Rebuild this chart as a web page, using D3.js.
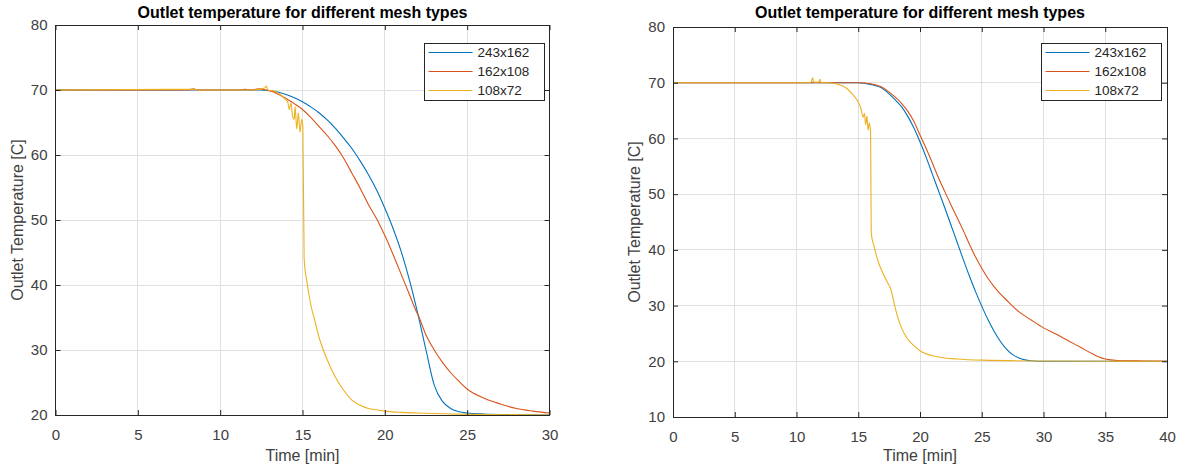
<!DOCTYPE html>
<html>
<head>
<meta charset="utf-8">
<script src="https://cdn.jsdelivr.net/npm/d3@7"></script>
<style>
  html, body { margin: 0; padding: 0; background: #fff; }
  svg { display: block; font-family: "Liberation Sans", Arial, sans-serif; }
</style>
</head>
<body>
<svg id="chart" width="1180" height="467"></svg>
<script>
// ---------------- DATA ----------------
const chartTitle = "Outlet temperature for different mesh types";
const xAxisLabel = "Time [min]";
const yAxisLabel = "Outlet Temperature [C]";
const seriesNames = ["243x162", "162x108", "108x72"];

// Left chart (time in minutes, temperature in C)
const leftXTicks = [0, 5, 10, 15, 20, 25, 30];
const leftYTicks = [20, 30, 40, 50, 60, 70, 80];

const left243Time = [0, 5, 10, 12.5, 13, 13.5, 14, 14.5, 15, 15.5, 16, 16.5, 17, 17.5, 18, 18.5, 19, 19.5, 20, 20.5, 21, 21.5, 22, 22.5, 23, 23.5, 24, 24.5, 25, 26, 28, 30];
const left243Temp = [70, 70, 70, 70, 69.9, 69.7, 69.3, 68.8, 68.2, 67.4, 66.5, 65.4, 64.1, 62.6, 61.0, 59.1, 57.0, 54.6, 51.8, 48.7, 45.1, 40.7, 35.6, 30.0, 24.6, 22.1, 21.0, 20.5, 20.3, 20.15, 20.05, 20.0];

const left162Time = [0, 8, 8.4, 8.6, 9, 11, 11.5, 12, 12.3, 12.6, 13, 13.5, 14, 14.5, 15, 15.5, 16, 16.5, 17, 17.5, 18, 18.5, 19, 19.5, 20, 20.5, 21, 21.5, 21.9, 22, 22.5, 23, 23.5, 24, 24.5, 25, 26, 27, 28, 29, 30];
const left162Temp = [70, 70, 70.2, 70, 70, 70, 70.1, 70, 70.2, 70.1, 69.9, 69.4, 68.7, 67.9, 67.0, 65.8, 64.4, 63.0, 61.4, 59.5, 57.2, 54.9, 52.4, 50.2, 47.6, 44.7, 41.6, 38.5, 36.0, 35.5, 32.3, 30.0, 28.1, 26.5, 25.2, 24.0, 22.6, 21.7, 21.0, 20.6, 20.3];

const left108Time = [0, 8.4, 8.6, 12, 12.7, 12.8, 12.9, 13.3, 13.6, 13.9, 14.1, 14.2, 14.3, 14.4, 14.5, 14.55, 14.65, 14.75, 14.85, 14.95, 15.02, 15.1, 15.3, 15.5, 15.75, 16, 16.5, 17, 17.5, 18, 18.5, 19, 19.5, 20, 21, 22, 25, 30];
const left108Temp = [70, 70.1, 70, 70, 70.3, 70.6, 70.0, 69.8, 69.4, 68.7, 68.2, 67.0, 68.0, 66.0, 65.5, 67.5, 64.0, 66.5, 63.5, 65.5, 64.5, 44.0, 40.0, 37.0, 34.5, 32.0, 28.5, 25.8, 23.8, 22.3, 21.5, 21.0, 20.8, 20.6, 20.4, 20.3, 20.1, 20.0];

// Right chart
const rightXTicks = [0, 5, 10, 15, 20, 25, 30, 35, 40];
const rightYTicks = [10, 20, 30, 40, 50, 60, 70, 80];

const right243Time = [0, 10, 15, 16, 17, 17.5, 18, 18.5, 19, 19.5, 20, 20.5, 21, 21.5, 22, 22.5, 23, 23.5, 24, 24.5, 25, 25.5, 26, 26.5, 27, 27.5, 28, 28.5, 29, 30, 40];
const right243Temp = [70, 70, 70, 69.7, 68.9, 68.0, 66.9, 65.7, 64.0, 61.9, 59.4, 56.6, 53.6, 50.6, 47.6, 44.5, 41.4, 38.3, 35.3, 32.5, 29.9, 27.5, 25.4, 23.6, 22.2, 21.2, 20.6, 20.25, 20.1, 20.0, 20.0];

const right162Time = [0, 10, 15, 16, 17, 17.5, 18, 18.5, 19, 19.5, 20, 20.5, 21, 21.5, 22, 22.5, 23, 23.5, 24, 24.5, 25, 25.5, 26, 26.5, 27, 27.5, 28, 29, 30, 31, 32, 33, 34, 34.5, 35, 36, 38, 40];
const right162Temp = [70, 70, 70, 69.8, 69.1, 68.3, 67.4, 66.3, 64.9, 63.1, 60.6, 58.2, 55.6, 52.9, 50.5, 48.1, 45.8, 43.5, 41.0, 38.7, 36.7, 34.9, 33.4, 32.1, 31.0, 29.9, 28.9, 27.4, 26.0, 24.9, 23.7, 22.5, 21.3, 20.75, 20.4, 20.15, 20.05, 20.0];

const right108Time = [0, 11, 11.2, 11.3, 11.4, 11.8, 11.9, 12.0, 12.5, 13, 13.5, 14, 14.5, 14.9, 15.2, 15.4, 15.5, 15.6, 15.7, 15.8, 15.9, 16.0, 16.05, 16.3, 16.6, 17.0, 17.4, 17.6, 17.8, 18.0, 18.5, 19, 19.5, 20, 21, 22, 23, 25, 30, 40];
const right108Temp = [70, 70, 70.2, 70.9, 70.1, 70.1, 70.6, 70.0, 70, 69.9, 69.6, 69.1, 68.0, 66.9, 65.5, 63.8, 64.5, 62.5, 64.0, 61.5, 62.8, 61.0, 43.0, 40.5, 38.0, 35.8, 34.0, 33.2, 31.5, 29.5, 26.0, 24.0, 22.8, 21.9, 21.0, 20.6, 20.4, 20.2, 20.05, 20.0];

const seriesColors = ["#0072BD", "#D95319", "#EDB120"];

// ---------------- DRAW ----------------
const svg = d3.select("#chart");

function drawPanel(opts) {
  const { x0, x1, y0, y1, xDomain, yDomain, xTicks, yTicks, series, legend } = opts;
  const x = d3.scaleLinear().domain(xDomain).range([x0, x1]);
  const y = d3.scaleLinear().domain(yDomain).range([y1, y0]);
  const g = svg.append("g");

  // grid
  g.append("g").selectAll("line").data(xTicks.filter(d => d !== xDomain[0] && d !== xDomain[1]))
    .join("line").attr("x1", d => x(d)).attr("x2", d => x(d)).attr("y1", y0).attr("y2", y1)
    .attr("stroke", "#e0e0e0").attr("stroke-width", 1).attr("shape-rendering", "crispEdges");
  g.append("g").selectAll("line").data(yTicks.filter(d => d !== yDomain[0] && d !== yDomain[1]))
    .join("line").attr("x1", x0).attr("x2", x1).attr("y1", d => y(d)).attr("y2", d => y(d))
    .attr("stroke", "#e0e0e0").attr("stroke-width", 1).attr("shape-rendering", "crispEdges");

  // series
  const line = d3.line().x(d => x(d[0])).y(d => y(d[1])).curve(d3.curveMonotoneX);
  series.forEach((s, i) => {
    const pts = s.t.map((t, k) => [t, s.v[k]]);
    g.append("path").datum(pts).attr("d", line).attr("fill", "none")
      .attr("stroke", seriesColors[i]).attr("stroke-width", 1.1).attr("stroke-linejoin", "round");
  });

  // axes (ticks inward on all sides)
  const tickLen = 5;
  const axisColor = "#262626";
  const bottom = d3.axisBottom(x).tickValues(xTicks).tickSize(-tickLen).tickPadding(14).tickFormat(d3.format("d"));
  const top = d3.axisTop(x).tickValues(xTicks).tickSize(-tickLen).tickFormat("");
  const leftA = d3.axisLeft(y).tickValues(yTicks).tickSize(-tickLen).tickPadding(8).tickFormat(d3.format("d"));
  const rightA = d3.axisRight(y).tickValues(yTicks).tickSize(-tickLen).tickFormat("");

  const styleAxis = sel => {
    sel.selectAll(".tick line").attr("stroke", axisColor).attr("stroke-width", 1);
    sel.selectAll(".tick text").attr("fill", "#404040").style("font-size", "15px")
      .style("font-family", "'Liberation Sans', Arial, sans-serif");
  };
  g.append("g").attr("transform", `translate(0,${y1})`).call(bottom).call(styleAxis);
  g.append("g").attr("transform", `translate(0,${y0})`).call(top).call(styleAxis);
  g.append("g").attr("transform", `translate(${x0},0)`).call(leftA).call(styleAxis);
  g.append("g").attr("transform", `translate(${x1},0)`).call(rightA).call(styleAxis);
  g.selectAll("path.domain").remove();
  g.append("rect").attr("x", x0).attr("y", y0).attr("width", x1 - x0).attr("height", y1 - y0)
    .attr("fill", "none").attr("stroke", axisColor).attr("stroke-width", 1).attr("shape-rendering", "crispEdges");

  // titles
  const cx = (x0 + x1) / 2;
  g.append("text").attr("x", cx).attr("y", 18).attr("text-anchor", "middle")
    .attr("font-weight", "bold").style("font-size", "16px").attr("fill", "#000").text(chartTitle);
  g.append("text").attr("x", cx).attr("y", 461).attr("text-anchor", "middle")
    .style("font-size", "16px").attr("fill", "#404040").text(xAxisLabel);
  g.append("text").attr("transform", `translate(${opts.ylabX},${(y0 + y1) / 2}) rotate(-90)`)
    .attr("text-anchor", "middle").attr("dominant-baseline", "central")
    .style("font-size", "16px").attr("fill", "#404040").text(yAxisLabel);

  // legend
  const lg = g.append("g");
  lg.append("rect").attr("x", legend.x).attr("y", legend.y).attr("width", legend.w).attr("height", legend.h)
    .attr("fill", "#fff").attr("stroke", axisColor).attr("stroke-width", 1).attr("shape-rendering", "crispEdges");
  seriesNames.forEach((name, i) => {
    const yy = legend.y + 9.5 + i * 19;
    lg.append("line").attr("x1", legend.x + 4).attr("x2", legend.x + 48).attr("y1", yy).attr("y2", yy)
      .attr("stroke", seriesColors[i]).attr("stroke-width", 1.2);
    lg.append("text").attr("x", legend.x + 53).attr("y", yy).attr("dominant-baseline", "central")
      .style("font-size", "13.5px").attr("fill", "#262626").text(name);
  });
}

drawPanel({
  x0: 55.5, x1: 549.5, y0: 25, y1: 415,
  xDomain: [0, 30], yDomain: [20, 80], xTicks: leftXTicks, yTicks: leftYTicks,
  ylabX: 17,
  series: [
    { t: left243Time, v: left243Temp },
    { t: left162Time, v: left162Temp },
    { t: left108Time, v: left108Temp }
  ],
  legend: { x: 424.5, y: 43, w: 120, h: 57 }
});

drawPanel({
  x0: 673, x1: 1167, y0: 27, y1: 417,
  xDomain: [0, 40], yDomain: [10, 80], xTicks: rightXTicks, yTicks: rightYTicks,
  ylabX: 634,
  series: [
    { t: right243Time, v: right243Temp },
    { t: right162Time, v: right162Temp },
    { t: right108Time, v: right108Temp }
  ],
  legend: { x: 1041.5, y: 43, w: 120, h: 57 }
});
</script>
</body>
</html>
